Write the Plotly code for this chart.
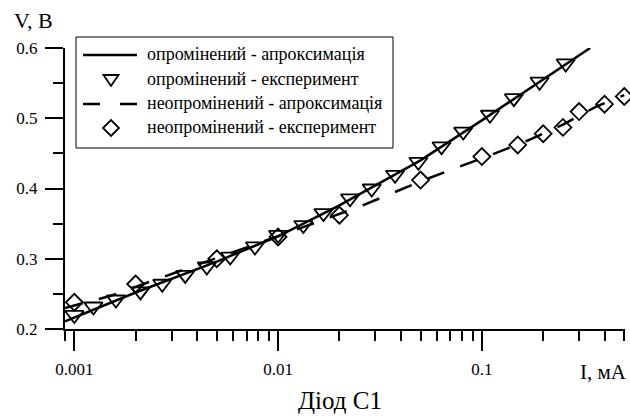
import plotly.graph_objects as go

# ---- data ----
# irradiated diode, experiment (triangles)
irr_I = [0.001, 0.00124, 0.0016, 0.00211, 0.0027, 0.0035, 0.00447, 0.00582, 0.0077,
         0.01, 0.0133, 0.0167, 0.02255, 0.0288, 0.0375, 0.0488, 0.0634, 0.081,
         0.1096, 0.1436, 0.192, 0.258, 0.339]
irr_V = [0.220, 0.232, 0.242, 0.2535, 0.2644, 0.277, 0.289, 0.303, 0.3175,
         0.334, 0.348, 0.365, 0.386, 0.400, 0.4195, 0.438, 0.460, 0.481,
         0.505, 0.5286, 0.552, 0.578, 0.602]
# irradiated diode, approximation (solid line)
irr_fit_I = [0.0009, 0.002, 0.005, 0.01, 0.02, 0.05, 0.1, 0.2, 0.34]
irr_fit_V = [0.211, 0.252, 0.296, 0.332, 0.376, 0.440, 0.497, 0.555, 0.600]
# non-irradiated diode, experiment (diamonds)
un_I = [0.001, 0.002, 0.005, 0.01, 0.02, 0.05, 0.1, 0.15, 0.2, 0.25, 0.3, 0.4, 0.5]
un_V = [0.238, 0.264, 0.300, 0.331, 0.362, 0.412, 0.4455, 0.462, 0.478, 0.487, 0.5095, 0.520, 0.531]
# non-irradiated diode, approximation (dashed line)
un_fit_I = [0.0009, 0.0015, 0.0034, 0.01, 0.025, 0.053, 0.116, 0.17, 0.25, 0.366, 0.5]
un_fit_V = [0.230, 0.247, 0.284, 0.332, 0.374, 0.413, 0.450, 0.469, 0.491, 0.517, 0.533]

legend_labels = ["опромінений - апроксимація", "опромінений - експеримент",
                 "неопромінений - апроксимація", "неопромінений - експеримент"]
x_major = [0.001, 0.01, 0.1]
x_major_text = ["0.001", "0.01", "0.1"]
x_minor = [0.0009] + [k * 0.001 for k in range(2, 10)] + [k * 0.01 for k in range(2, 10)] + [0.2, 0.3, 0.4, 0.5]

FONT = "'Liberation Serif', 'Times New Roman', Times, serif"
W, H = 630, 416
L, R, T, B = 65, 5, 48, 87
PW, PH = W - L - R, H - T - B

def px(X):
    return (X - L) / PW

def py(Y):
    return (H - B - Y) / PH

fig = go.Figure()
fig.add_trace(go.Scatter(x=irr_fit_I, y=irr_fit_V, mode="lines",
                         line=dict(color="black", width=2.5), showlegend=False))
fig.add_trace(go.Scatter(x=un_fit_I, y=un_fit_V, mode="lines",
                         line=dict(color="black", width=2.5, dash="18px,17px"), showlegend=False))
fig.add_trace(go.Scatter(x=irr_I, y=irr_V, mode="markers", cliponaxis=False,
                         marker=dict(symbol="triangle-down-open", size=16, color="black",
                                     line=dict(width=1.8, color="black")), showlegend=False))
fig.add_trace(go.Scatter(x=un_I, y=un_V, mode="markers", cliponaxis=False,
                         marker=dict(symbol="diamond-open", size=13, color="black",
                                     line=dict(width=1.8, color="black")), showlegend=False))

shapes = []
# legend box
shapes.append(dict(type="rect", xref="paper", yref="paper", x0=px(76), x1=px(393), y0=py(37), y1=py(148),
                   line=dict(color="black", width=1), fillcolor="white", layer="above"))
rows = [55, 80, 104, 128]
shapes.append(dict(type="line", xref="paper", yref="paper", x0=px(83), x1=px(137), y0=py(rows[0]), y1=py(rows[0]),
                   line=dict(color="black", width=2.5)))
shapes.append(dict(type="line", xref="paper", yref="paper", x0=px(83), x1=px(137), y0=py(rows[2]), y1=py(rows[2]),
                   line=dict(color="black", width=2.5, dash="17px,20px")))
cx = 111
tri = "M {} {} L {} {} L {} {} Z".format(px(cx - 7.5), py(rows[1] - 5), px(cx + 7.5), py(rows[1] - 5),
                                         px(cx), py(rows[1] + 6))
shapes.append(dict(type="path", xref="paper", yref="paper", path=tri, line=dict(color="black", width=1.8)))
dia = "M {} {} L {} {} L {} {} L {} {} Z".format(px(cx - 8), py(rows[3]), px(cx), py(rows[3] - 8),
                                                 px(cx + 8), py(rows[3]), px(cx), py(rows[3] + 8))
shapes.append(dict(type="path", xref="paper", yref="paper", path=dia, line=dict(color="black", width=1.8)))

annotations = []
for r, lab in zip(rows, legend_labels):
    annotations.append(dict(x=px(145), y=py(r - 1), xref="paper", yref="paper", text=lab, showarrow=False,
                            xanchor="left", yanchor="middle", font=dict(family=FONT, size=18, color="black")))
annotations.append(dict(x=px(12), y=py(20), xref="paper", yref="paper", text="V, В", showarrow=False,
                        xanchor="left", yanchor="middle", font=dict(family=FONT, size=22, color="black")))
annotations.append(dict(x=px(629), y=py(372), xref="paper", yref="paper", text="I, мА", showarrow=False,
                        xanchor="right", yanchor="middle", font=dict(family=FONT, size=21, color="black")))
annotations.append(dict(x=px(340), y=py(400), xref="paper", yref="paper", text="Діод С1", showarrow=False,
                        xanchor="center", yanchor="middle", font=dict(family=FONT, size=25, color="black")))

fig.update_layout(
    width=W, height=H, margin=dict(l=L, r=R, t=T, b=B),
    paper_bgcolor="white", plot_bgcolor="white",
    font=dict(family=FONT, size=17, color="black"),
    shapes=shapes, annotations=annotations,
    xaxis=dict(type="log", range=[-3.0458, -0.2975], showgrid=False, zeroline=False,
               showline=True, linecolor="black", linewidth=2,
               ticks="outside", ticklen=20, tickwidth=2, tickcolor="black",
               tickmode="array", tickvals=x_major, ticktext=x_major_text,
               ticklabelstandoff=4,
               minor=dict(ticks="outside", ticklen=10, tickwidth=2, tickcolor="black",
                          tickmode="array", tickvals=x_minor, showgrid=False)),
    yaxis=dict(range=[0.2, 0.6], showgrid=False, zeroline=False,
               showline=True, linecolor="black", linewidth=2,
               ticks="outside", ticklen=18, tickwidth=2, tickcolor="black",
               tickmode="linear", tick0=0.2, dtick=0.1, tickformat=".1f",
               ticklabelstandoff=4,
               minor=dict(ticks="outside", ticklen=10, tickwidth=2, tickcolor="black",
                          dtick=0.05, showgrid=False)),
)
fig.write_html("out.html")
